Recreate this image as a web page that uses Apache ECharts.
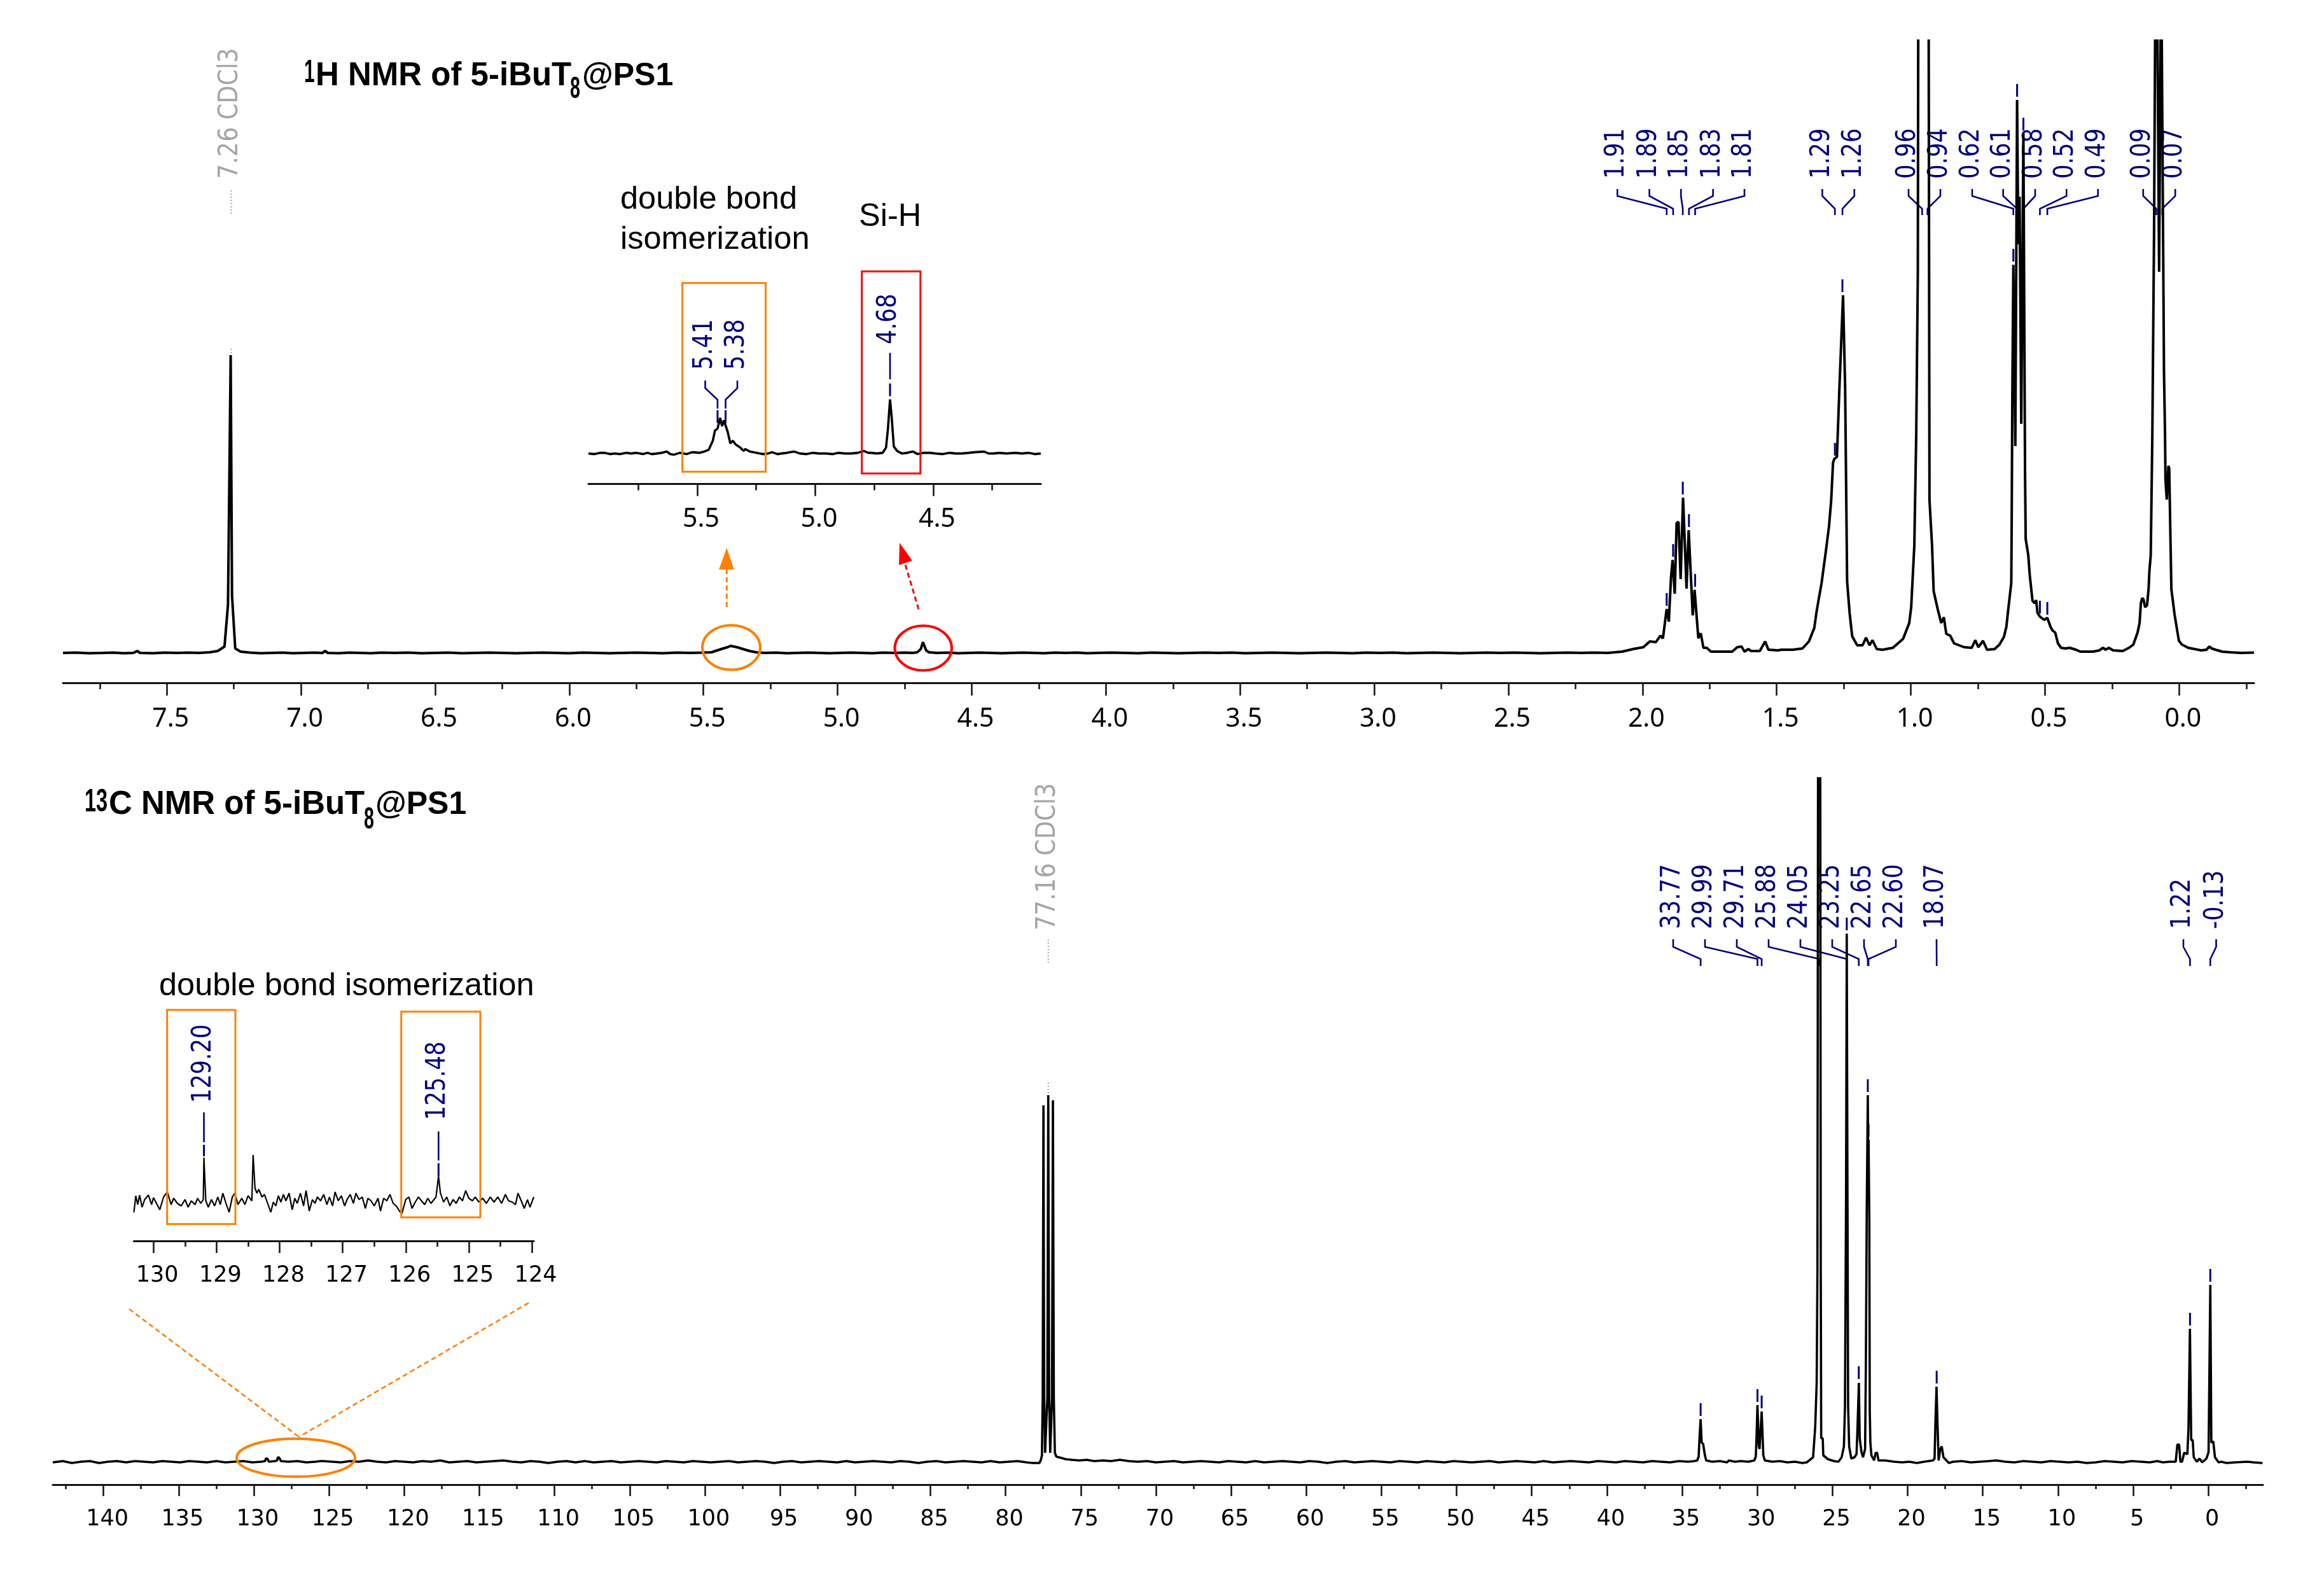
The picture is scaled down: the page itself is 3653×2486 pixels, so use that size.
<!DOCTYPE html>
<html><head><meta charset="utf-8">
<style>html,body{margin:0;padding:0;background:#fff}#c{width:3653px;height:2486px}</style>
<script src="https://cdn.jsdelivr.net/npm/echarts@6/dist/echarts.min.js"></script>
</head><body><div id="c"></div>
<script>
// ---------- 1H main spectrum: [ppm, intensity] ----------
const hSpectrum = [
[7.887,0],[7.84,0.5],[7.79,-0.5],[7.74,0],[7.70,0.5],[7.66,-0.5],[7.625,0],[7.61,3],[7.60,0],[7.55,-0.5],[7.51,0.5],[7.46,0],[7.42,0.5],[7.38,0],[7.34,1],[7.31,3],[7.285,10],[7.272,76],[7.262,468],[7.257,90],[7.245,7],[7.225,2],[7.19,0.5],[7.15,-0.5],[7.11,0],[7.07,0.5],[7.03,-0.5],[6.99,0],[6.95,0.5],[6.92,0],[6.91,3],[6.90,0],[6.86,-0.5],[6.82,0.5],[6.78,0],[6.74,-0.5],[6.70,0.5],[6.65,0],[6.60,0.5],[6.55,-0.5],[6.50,0],[6.45,0.5],[6.40,-0.5],[6.35,0],[6.30,0.5],[6.25,0],[6.20,-0.5],[6.15,0],[6.10,0.5],[6.05,0],[6.00,-0.5],[5.95,0.5],[5.90,0],[5.85,-0.5],[5.80,0],[5.75,0.5],[5.70,0],[5.65,-0.5],[5.60,0.5],[5.55,0],[5.50,0.5],[5.47,1],[5.434,6],[5.41,9],[5.399,11],[5.375,9],[5.352,6],[5.328,3],[5.304,1],[5.27,0],[5.23,0.5],[5.19,-0.5],[5.15,0],[5.11,0.5],[5.07,0],[5.03,-0.5],[4.99,0],[4.95,0.5],[4.91,0],[4.87,-0.5],[4.83,0.5],[4.79,0],[4.75,0.5],[4.72,0],[4.703,1],[4.69,6],[4.682,17],[4.67,4],[4.66,1],[4.63,0],[4.59,0.5],[4.55,-0.5],[4.51,0],[4.47,0.5],[4.43,0],[4.39,-0.5],[4.35,0],[4.31,0.5],[4.27,0],[4.23,-0.5],[4.19,0.5],[4.15,0],[4.11,0.5],[4.07,-0.5],[4.03,0],[3.98,0.5],[3.93,0],[3.88,-0.5],[3.83,0.5],[3.78,0],[3.73,-0.5],[3.68,0],[3.63,0.5],[3.58,0],[3.53,0.5],[3.48,-0.5],[3.43,0],[3.38,0.5],[3.33,0],[3.28,-0.5],[3.23,0],[3.18,0.5],[3.13,0],[3.08,-0.5],[3.03,0.5],[2.98,0],[2.93,0.5],[2.88,-0.5],[2.83,0],[2.78,0.5],[2.73,0],[2.68,-0.5],[2.63,0],[2.58,0.5],[2.53,0],[2.48,0.5],[2.43,0],[2.38,-0.5],[2.33,0],[2.28,0.5],[2.23,0],[2.18,0.5],[2.13,0],[2.076,2],[2.036,6],[1.997,9],[1.973,18],[1.95,17],[1.934,27],[1.924,23],[1.910,69],[1.902,49],[1.894,118],[1.888,146],[1.880,93],[1.873,204],[1.866,206],[1.858,116],[1.849,244],[1.836,101],[1.828,193],[1.813,59],[1.806,99],[1.792,23],[1.783,31],[1.773,8],[1.761,8],[1.745,2],[1.70,2],[1.666,2],[1.647,9],[1.631,10],[1.62,2],[1.606,6],[1.595,3],[1.563,3],[1.543,18],[1.531,5],[1.495,4],[1.483,5],[1.44,5],[1.404,7],[1.380,18],[1.36,39],[1.352,63],[1.344,83],[1.333,109],[1.317,159],[1.305,199],[1.297,239],[1.290,299],[1.285,305],[1.2755,308],[1.266,419],[1.2527,562],[1.245,419],[1.2375,112],[1.228,62],[1.2186,26],[1.2,12],[1.18,12],[1.167,24],[1.154,12],[1.143,20],[1.127,6],[1.105,5],[1.067,8],[1.029,22],[1.006,47],[0.9987,72],[0.987,169],[0.9798,347],[0.974,597],[0.972,1100],[0.934,1100],[0.9305,240],[0.921,169],[0.915,97],[0.90,69],[0.8869,47],[0.877,56],[0.868,30],[0.853,27],[0.839,15],[0.8016,9],[0.773,8],[0.7598,20],[0.7485,9],[0.731,19],[0.716,5],[0.6878,6],[0.67,13],[0.6533,25],[0.644,41],[0.6376,66],[0.6257,110],[0.624,216],[0.6218,404],[0.618,610],[0.6106,325],[0.604,869],[0.5995,642],[0.5948,717],[0.5885,360],[0.5805,816],[0.5758,404],[0.5743,279],[0.572,179],[0.5625,154],[0.5568,122],[0.5466,82],[0.5387,78],[0.533,83],[0.528,63],[0.519,57],[0.503,52],[0.4913,55],[0.4795,41],[0.4715,35],[0.462,32],[0.4517,15],[0.44,8],[0.424,7],[0.408,8],[0.3846,5],[0.3687,2],[0.3213,2],[0.2976,4],[0.284,8],[0.274,5],[0.262,8],[0.246,4],[0.2106,3],[0.187,8],[0.171,13],[0.155,32],[0.1475,47],[0.1427,78],[0.138,86],[0.133,84],[0.127,72],[0.1197,75],[0.114,100],[0.111,128],[0.106,153],[0.1,341],[0.0937,654],[0.088,1100],[0.083,1100],[0.0747,599],[0.067,1100],[0.0628,1100],[0.0565,441],[0.0526,341],[0.051,272],[0.0462,241],[0.04,294],[0.037,290],[0.0327,185],[0.029,100],[0.017,60],[0.001,19],[-0.0107,13],[-0.034,8],[-0.082,4],[-0.1015,5],[-0.113,10],[-0.121,7],[-0.136,5],[-0.16,2],[-0.19,1],[-0.23,0],[-0.279,0.5]
];
// ---------- 1H inset ----------
const hInsetSpectrum = [
[5.961,0],[5.935,-1],[5.91,1],[5.894,1],[5.87,-1],[5.85,0],[5.827,-1],[5.80,1],[5.78,0],[5.76,1],[5.73,-1],[5.71,1],[5.693,-1],[5.67,0],[5.65,1],[5.628,3],[5.615,-1],[5.599,-2],[5.575,1],[5.56,0],[5.545,-1],[5.53,1],[5.518,2],[5.49,1],[5.47,3],[5.451,6],[5.434,20],[5.425,36],[5.414,39],[5.403,56],[5.395,43],[5.387,52],[5.371,34],[5.36,16],[5.349,20],[5.337,14],[5.317,9],[5.304,4],[5.297,7],[5.277,3],[5.25,1],[5.223,-1],[5.20,0],[5.183,2],[5.16,-1],[5.143,0],[5.12,1],[5.089,3],[5.065,0],[5.036,-1],[5.01,1],[4.985,0],[4.955,0],[4.925,-1],[4.90,1],[4.875,0],[4.848,0],[4.82,1],[4.794,4],[4.775,1],[4.761,1],[4.74,0],[4.714,1],[4.70,9],[4.692,38],[4.683,85],[4.676,57],[4.667,11],[4.653,4],[4.633,0],[4.61,1],[4.586,3],[4.566,-1],[4.54,1],[4.513,1],[4.49,0],[4.459,-1],[4.43,1],[4.405,0],[4.379,0],[4.35,1],[4.325,2],[4.285,3],[4.265,0],[4.244,0],[4.22,1],[4.19,0],[4.151,1],[4.125,0],[4.097,1],[4.07,-1],[4.044,0]
];
const cInsetSpectrum = [
[130.31,-16],[130.28,10],[130.25,-4],[130.22,11],[130.18,-8],[130.14,4],[130.08,11],[130.03,-4],[130.0,7],[129.9,-12],[129.84,8],[129.78,16],[129.72,-4],[129.68,6],[129.62,-2],[129.56,-6],[129.5,4],[129.45,-8],[129.4,2],[129.34,-4],[129.3,6],[129.25,-2],[129.21,4],[129.2,70],[129.17,2],[129.13,-8],[129.08,4],[129.03,-6],[128.98,8],[128.94,-4],[128.9,14],[128.85,-2],[128.8,-16],[128.75,8],[128.71,14],[128.66,-4],[128.6,6],[128.55,-4],[128.5,10],[128.44,2],[128.42,74],[128.39,22],[128.36,14],[128.33,20],[128.28,8],[128.24,12],[128.19,-2],[128.14,-16],[128.1,0],[128.06,-6],[128.02,10],[127.98,0],[127.94,12],[127.9,2],[127.85,14],[127.8,-12],[127.76,6],[127.72,-2],[127.67,14],[127.62,-6],[127.58,18],[127.53,-14],[127.48,4],[127.44,-2],[127.4,8],[127.35,2],[127.3,12],[127.25,-4],[127.21,8],[127.16,-6],[127.12,16],[127.07,2],[127.02,10],[126.97,-6],[126.93,4],[126.88,12],[126.83,-2],[126.79,14],[126.74,4],[126.69,8],[126.64,-10],[126.6,6],[126.55,2],[126.5,-6],[126.44,6],[126.4,-14],[126.35,6],[126.3,2],[126.25,12],[126.2,-2],[126.15,-6],[126.1,-14],[126.06,-18],[126.0,4],[125.95,8],[125.9,-10],[125.86,-2],[125.8,8],[125.75,2],[125.7,-4],[125.65,6],[125.6,-2],[125.52,8],[125.48,41],[125.45,14],[125.4,0],[125.35,8],[125.3,-6],[125.25,4],[125.2,-2],[125.15,8],[125.1,2],[125.05,18],[125.0,6],[124.94,2],[124.9,8],[124.84,0],[124.78,6],[124.72,-2],[124.66,8],[124.6,0],[124.54,8],[124.48,-2],[124.42,12],[124.37,2],[124.31,0],[124.26,-4],[124.22,14],[124.16,0],[124.12,-10],[124.07,4],[124.03,-8],[123.97,8]
];
// ---------- 13C main spectrum ----------
const cSpectrum = [
[143.37,-1],[142.7,1],[142.1,-2],[141.5,0],[140.9,1],[140.3,-2],[139.7,0],[139.1,1],[138.5,-1],[137.9,1],[137.3,0],[136.7,-1],[136.1,1],[135.5,0],[134.9,-1],[134.3,1],[133.7,0],[133.1,-1],[132.5,1],[131.9,-1],[131.3,0],[130.7,1],[130.1,-1],[129.5,0],[129.25,1],[129.2,5],[129.1,5],[129.0,0],[128.6,1],[128.45,2],[128.4,7],[128.3,6],[128.2,1],[127.7,0],[127.1,1],[126.5,-1],[125.9,0],[125.55,1],[125.48,3],[125.4,1],[124.8,0],[124.2,-1],[123.6,1],[123.0,0],[122.4,2],[121.8,0],[121.2,-1],[120.6,1],[120.0,0],[119.4,-1],[118.8,1],[118.2,0],[117.6,2],[117.0,-1],[116.4,0],[115.8,1],[115.2,-1],[114.6,0],[114.0,1],[113.4,2],[112.8,0],[112.2,-1],[111.6,1],[111.0,0],[110.4,-2],[109.8,0],[109.2,1],[108.6,-1],[108.0,1],[107.4,-1],[106.8,0],[106.2,1],[105.6,-1],[105.0,0],[104.4,1],[103.8,0],[103.2,-1],[102.6,1],[102.0,0],[101.4,-1],[100.8,1],[100.2,0],[99.6,-1],[99.0,0],[98.4,1],[97.8,-1],[97.2,0],[96.6,1],[96.0,0],[95.4,-2],[94.8,0],[94.2,1],[93.6,-1],[93.0,0],[92.4,1],[91.8,0],[91.2,-1],[90.6,1],[90.0,-1],[89.4,0],[88.8,1],[88.2,0],[87.6,-1],[87.0,1],[86.4,0],[85.8,-2],[85.2,0],[84.6,1],[84.0,-1],[83.4,0],[82.8,1],[82.2,0],[81.6,-1],[81.0,1],[80.4,-1],[79.8,0],[79.2,1],[78.6,-1],[78.2,-2],[77.75,-2],[77.65,3],[77.58,10],[77.53,100],[77.48,560],[77.43,100],[77.37,14],[77.33,14],[77.22,100],[77.16,576],[77.10,100],[77.03,14],[76.98,12],[76.91,100],[76.85,568],[76.79,100],[76.72,14],[76.62,8],[76.3,6],[76.0,4],[75.6,3],[75.1,2],[74.6,3],[74.1,1],[73.5,2],[73.0,1],[72.4,3],[71.8,1],[71.2,0],[70.6,1],[70.0,-1],[69.4,0],[68.8,1],[68.2,-1],[67.6,0],[67.0,1],[66.4,0],[65.8,-1],[65.2,1],[64.6,0],[64.0,-1],[63.4,1],[62.8,-1],[62.2,0],[61.6,1],[61.0,0],[60.4,-1],[59.8,1],[59.2,0],[58.6,-2],[58.0,0],[57.4,1],[56.8,-1],[56.2,0],[55.6,1],[55.0,0],[54.4,-1],[53.8,1],[53.2,0],[52.6,-1],[52.0,1],[51.4,0],[50.8,-1],[50.2,1],[49.6,0],[49.0,-1],[48.4,0],[47.8,1],[47.2,-1],[46.6,0],[46.0,1],[45.4,0],[44.8,-1],[44.2,1],[43.6,-1],[43.0,0],[42.4,1],[41.8,0],[41.2,-1],[40.6,1],[40.0,0],[39.4,-1],[38.8,1],[38.2,0],[37.6,-1],[37.0,1],[36.4,0],[35.8,-1],[35.2,1],[34.6,0],[34.2,1],[34.0,2],[33.9,8],[33.85,35],[33.77,67],[33.7,30],[33.6,28],[33.5,12],[33.4,2],[33.0,0],[32.5,1],[32.0,-1],[31.9,2],[31.5,0],[31.1,1],[30.6,0],[30.2,2],[30.1,8],[30.05,40],[29.99,89],[29.9,25],[29.85,20],[29.71,79],[29.6,10],[29.5,2],[29.0,0],[28.5,1],[28.0,-1],[27.5,0],[27.0,-2],[26.71,-1],[26.29,7],[26.15,54],[26.05,124],[26.0,300],[25.95,1300],[25.82,1300],[25.78,300],[25.75,37],[25.65,37],[25.61,10],[25.30,4],[24.9,1],[24.6,0],[24.39,7],[24.24,24],[24.17,87],[24.1,400],[24.05,830],[24.0,400],[23.96,87],[23.89,24],[23.75,5],[23.54,7],[23.40,12],[23.33,57],[23.245,124],[23.19,37],[23.07,15],[22.97,7],[22.83,20],[22.78,150],[22.72,400],[22.65,576],[22.625,480],[22.60,506],[22.55,380],[22.52,80],[22.48,30],[22.41,10],[22.23,2],[22.13,14],[22.03,14],[21.94,2],[21.49,2],[20.9,0],[20.36,-1],[19.9,0],[19.38,-2],[18.9,0],[18.32,2],[18.21,5],[18.15,64],[18.08,118],[18.02,64],[17.94,2],[17.83,20],[17.73,24],[17.62,7],[17.26,-2],[16.98,0],[16.4,1],[15.8,-1],[15.2,0],[14.6,1],[14.1,2],[13.5,0],[12.9,-1],[12.3,1],[11.7,0],[11.1,-1],[10.5,1],[9.9,0],[9.3,-1],[8.7,0],[8.1,-2],[7.5,-1],[6.9,1],[6.3,0],[5.7,-1],[5.1,1],[4.5,0],[3.9,-1],[3.4,1],[3.017,-1],[2.6,0],[2.17,0],[2.06,27],[1.945,27],[1.86,0],[1.75,0],[1.607,14],[1.395,12],[1.32,54],[1.225,209],[1.141,34],[1.042,34],[0.972,7],[0.76,0],[0.59,5],[0.408,-1],[0.126,5],[-0.015,15],[-0.13,278],[-0.199,30],[-0.326,32],[-0.44,7],[-0.68,-1],[-0.86,0],[-1.21,-2],[-1.78,-1],[-2.62,0],[-3.0,-1],[-3.6,-2]
];
// ---------- peak picks ----------
const hPicks = [1.91,1.886,1.85,1.827,1.804,1.283,1.255,0.958,0.938,0.618,0.604,0.5805,0.519,0.4913,0.085,0.063];
const hPickHeights = [69,146,244,193,99,305,562,2000,2000,610,869,816,57,55,2000,2000];
const hPickLabels = ['1.91','1.89','1.85','1.83','1.81','1.29','1.26','0.96','0.94','0.62','0.61','0.58','0.52','0.49','0.09','0.07'];
const hInsetPicks = [5.414,5.38];
const hInsetHeights = [43,43];
const hInsetLabels = ['5.41','5.38'];
const hSiH = [4.683], hSiHHeight = [85], hSiHLabel = ['4.68'];
const hSolvent = [7.26], hSolventHeight = [468], hSolventLabel = ['7.26 CDCl3'];
const cPicks = [33.77,29.99,29.71,25.88,24.05,23.25,22.65,22.60,18.07,1.22,-0.13];
const cPickHeights = [67,89,79,2000,830,125,576,506,118,209,278];
const cPickLabels = ['33.77','29.99','29.71','25.88','24.05','23.25','22.65','22.60','18.07','1.22','-0.13'];
const cSolvent = [77.16], cSolventHeight = [576], cSolventLabel = ['77.16 CDCl3'];
const cInsetA = [129.20], cInsetAHeight = [70], cInsetALabel = ['129.20'];
const cInsetB = [125.48], cInsetBHeight = [41], cInsetBLabel = ['125.48'];
// ---------- axis ticks ----------
const hMajor = [7.5,7,6.5,6,5.5,5,4.5,4,3.5,3,2.5,2,1.5,1,0.5,0];
const hMinor = [7.75,7.25,6.75,6.25,5.75,5.25,4.75,4.25,3.75,3.25,2.75,2.25,1.75,1.25,0.75,0.25,-0.25];
const hInsetMajor = [5.5,5,4.5];
const hInsetMinor = [5.75,5.25,4.75,4.25];
const cMajor = [140,135,130,125,120,115,110,105,100,95,90,85,80,75,70,65,60,55,50,45,40,35,30,25,20,15,10,5,0];
const cMinor = [142.5,137.5,132.5,127.5,122.5,117.5,112.5,107.5,102.5,97.5,92.5,87.5,82.5,77.5,72.5,67.5,62.5,57.5,52.5,47.5,42.5,37.5,32.5,27.5,22.5,17.5,12.5,7.5,2.5,-2.5];
const cInsetMajor = [130,129,128,127,126,125,124];
const cInsetMinor = [129.5,128.5,127.5,126.5,125.5,124.5];

// ---------- layout and style ----------
const NAVY='#000080', GREY='#a6a6a6', ORANGE='#ff8000', RED='#ff0000';
const PICKFONT='"DejaVu Sans",sans-serif';
const grids=[
 {left:99,width:3444,top:64,height:1009},
 {left:925,width:711,top:600,height:160.6},
 {left:83,width:3474,top:1223,height:1110},
 {left:210.5,width:628.5,top:1780,height:170}
];
const yRanges=[[-47,962],[-48,112.6],[-36,1074],[-61,109]];
const xRanges=[[-0.279,7.887],[4.044,5.961],[-3.63,143.37],[123.97,130.31]];
const axisFonts=[
 {font:'"Noto Sans"',size:41,margin:37,fmt:1,majorLen:20,minorLen:10},
 {font:'"Noto Sans"',size:41,margin:35,fmt:1,majorLen:19,minorLen:10},
 {font:'"DejaVu Sans"',size:35,margin:37,fmt:0,majorLen:18,minorLen:7},
 {font:'"DejaVu Sans"',size:35,margin:37,fmt:0,majorLen:19,minorLen:9}
];
const majors=[hMajor,hInsetMajor,cMajor,cInsetMajor], minors=[hMinor,hInsetMinor,cMinor,cInsetMinor];

const xAxes=[];
for(let i=0;i<4;i++){
 const f=axisFonts[i];
 xAxes.push({type:'value',gridIndex:i,position:'bottom',inverse:true,min:xRanges[i][0],max:xRanges[i][1],splitLine:{show:false},
  axisLine:{show:true,onZero:false,lineStyle:{color:'#111',width:3}},
  axisTick:{show:true,length:f.majorLen,customValues:majors[i],lineStyle:{color:'#111',width:2.5}},
  axisLabel:{show:true,customValues:majors[i],margin:f.margin,color:'#000',fontFamily:f.font,fontSize:f.size,padding:[0,0,0,12],hideOverlap:false,formatter:v=>(+v).toFixed(f.fmt)}});
}
for(let i=0;i<4;i++){
 const f=axisFonts[i];
 xAxes.push({type:'value',gridIndex:i,position:'bottom',inverse:true,min:xRanges[i][0],max:xRanges[i][1],splitLine:{show:false},
  axisLine:{show:false,onZero:false},
  axisTick:{show:true,length:f.minorLen,customValues:minors[i],lineStyle:{color:'#111',width:2.5}},
  axisLabel:{show:false}});
}
const yAxes=yRanges.map((r,i)=>({type:'value',gridIndex:i,min:r[0],max:r[1],show:false,splitLine:{show:false}}));

function spectrum(name,i,data,w){
 return {name,type:'line',xAxisIndex:i,yAxisIndex:i,data,showSymbol:false,symbol:'none',sampling:null,smooth:false,animation:false,clip:true,z:5,
  lineStyle:{color:'#000',width:w,join:'bevel'},emphasis:{disabled:true}};
}
// one custom series per group of picked peaks
function picks(i,ppms,heights,labels,L){
 return {type:'custom',xAxisIndex:i,yAxisIndex:i,z:3,animation:false,silent:true,clip:false,
  encode:{x:0,y:1},data:ppms.map((p,k)=>[p,heights[k]]),
  renderItem(params,api){
   const k=params.dataIndex, v=api.value(0), px=api.coord([v,0])[0], py=api.coord([v,api.value(1)])[1];
   const tx=L.topX?L.topX[k]:px;
   const color=L.color||NAVY, dash=L.dotted?[2,3]:null, lw=L.dotted?2:2.6;
   const kids=[{type:'polyline',shape:{points:[[tx,L.top],[tx,L.b1],[px,L.b2],[px,L.bot]]},style:{stroke:color,lineWidth:lw,fill:null,lineDash:dash}}];
   if(api.value(1)<1500){
    const gap=L.gap==null?5:L.gap, len=L.len||20;
    kids.push({type:'line',shape:{x1:px,y1:py-gap,x2:px,y2:py-gap-len},style:{stroke:color,lineWidth:L.dotted?2:3,lineDash:dash}});
   }
   kids.push({type:'text',x:tx+(L.dx==null?-1:L.dx),y:L.textY,rotation:Math.PI/2,scaleX:L.sx||0.83,
     style:{text:labels[k],fill:color,font:'43px '+PICKFONT,align:'left',verticalAlign:'middle'}});
   return {type:'group',children:kids};
  }};
}
const hTopX=[2542.3,2592.6,2642.2,2692.6,2742,2864.4,2914.8,3000,3050,3100,3148.7,3199,3248.3,3297.7,3368.8,3419.2];
const cTopX=[2630,2680,2730,2780,2830,2880,2930,2980,3044,3432,3483.5];

const series=[
 picks(0,hPicks,hPickHeights,hPickLabels,{topX:hTopX,top:297,b1:308,b2:328,bot:338,textY:281}),
 picks(0,hSolvent,hSolventHeight,hSolventLabel,{top:299,b1:310,b2:320,bot:339,textY:281,color:GREY,dotted:true,len:8,gap:3,dx:-2,sx:0.85}),
 picks(1,hInsetPicks,hInsetHeights,hInsetLabels,{topX:[1108.5,1159],top:598,b1:610,b2:628,bot:642,textY:581,dx:-1}),
 picks(1,hSiH,hSiHHeight,hSiHLabel,{top:554.5,b1:570,b2:585,bot:596,textY:541,gap:5,len:20,dx:-2}),
 picks(2,cPicks,cPickHeights,cPickLabels,{topX:cTopX,top:1476,b1:1488,b2:1507,bot:1518,textY:1460}),
 picks(2,cSolvent,cSolventHeight,cSolventLabel,{top:1476,b1:1490,b2:1500,bot:1516,textY:1462,color:GREY,dotted:true,gap:3,len:19,dx:-1,sx:0.86}),
 picks(3,cInsetA,cInsetAHeight,cInsetALabel,{top:1748,b1:1760,b2:1780,bot:1795,textY:1733,gap:2,len:18,dx:-1,sx:0.82}),
 picks(3,cInsetB,cInsetBHeight,cInsetBLabel,{top:1778,b1:1790,b2:1805,bot:1823.5,textY:1760,gap:0,len:20,dx:-1,sx:0.82}),
 spectrum('1H',0,hSpectrum,4),
 spectrum('1H inset',1,hInsetSpectrum,3.6),
 spectrum('13C',2,cSpectrum,3.6),
 spectrum('13C inset',3,cInsetSpectrum,2.2)
];

const BOLD='bold %px "Liberation Sans",sans-serif';
function bt(s,x,y,size,sx){return {type:'text',x,y,scaleX:sx||1,silent:true,z:10,style:{text:s,fill:'#000',font:BOLD.replace('%',size),align:'left',verticalAlign:'middle'}};}
function rt(s,x,y){return {type:'text',x,y,silent:true,z:10,style:{text:s,fill:'#000',font:'50.5px "Liberation Sans",sans-serif',align:'left',verticalAlign:'middle'}};}
function box(x1,y1,x2,y2,c){return {type:'rect',silent:true,z:8,shape:{x:x1,y:y1,width:x2-x1,height:y2-y1},style:{fill:null,stroke:c,lineWidth:3}};}
function ell(x1,y1,x2,y2,c){return {type:'ellipse',silent:true,z:8,shape:{cx:(x1+x2)/2,cy:(y1+y2)/2,rx:(x2-x1)/2,ry:(y2-y1)/2},style:{fill:null,stroke:c,lineWidth:4}};}
function dl(x1,y1,x2,y2,c,w,d){return {type:'line',silent:true,z:8,shape:{x1,y1,x2,y2},style:{stroke:c,lineWidth:w,lineDash:d}};}
function tri(p,c){return {type:'polygon',silent:true,z:8,shape:{points:p},style:{fill:c}};}

const graphic=[
 bt('1',478,115,50,.6),bt('H NMR of 5-iBuT',496,120,51),bt('8',896,141,48,.6),bt('@PS1',915,120,50),
 bt('13',133,1261,50,.65),bt('C NMR of 5-iBuT',171,1265,51),bt('8',572,1289,48,.6),bt('@PS1',590,1265,50),
 rt('double bond',975,314),rt('isomerization',975,377),rt('Si-H',1350,341),
 rt('double bond isomerization',250,1550),
 box(1072.6,444.7,1203.5,741.3,ORANGE),box(1354.7,426.4,1446.8,744,RED),
 ell(1104,982.4,1195,1052.6,ORANGE),ell(1406.5,983.3,1496,1053.6,RED),
 dl(1142.3,954,1142.3,895,ORANGE,3,[8,5]),tri([[1142.3,861],[1130,895],[1154,895]],ORANGE),
 dl(1444,957.6,1422.4,885,RED,3,[8,5]),tri([[1414,853],[1413,888],[1434,881]],RED),
 box(262.7,1587,370,1923.5,ORANGE),box(630.7,1589.7,755,1913,ORANGE),
 ell(372,2260.7,558,2320.6,ORANGE),
 dl(203,2057,470,2258,ORANGE,2.6,[8,5]),dl(831,2047.4,470,2258,ORANGE,2.6,[8,5])
];

const chart=echarts.init(document.getElementById('c'));
chart.setOption({animation:false,backgroundColor:'#fff',grid:grids,xAxis:xAxes,yAxis:yAxes,series,graphic,tooltip:{show:false}});
</script></body></html>
